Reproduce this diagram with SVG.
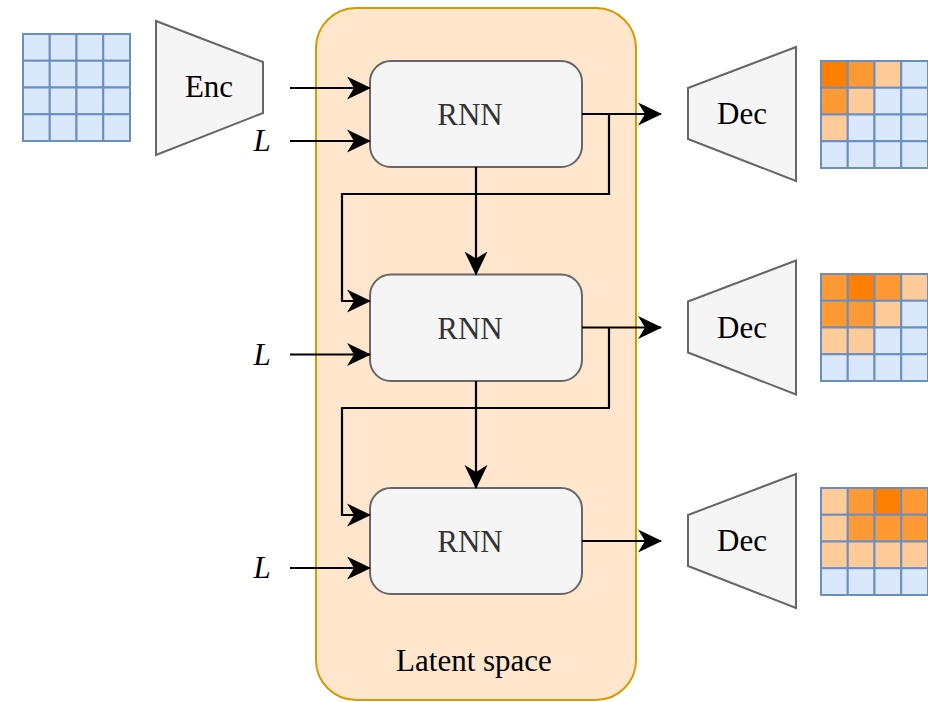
<svg xmlns="http://www.w3.org/2000/svg" width="928" height="702" viewBox="0 0 928 702">
<defs>
<style>
.grid rect{stroke:#6C8EBF;stroke-width:2}
.b{fill:#DAE8FC}.l{fill:#FFCC99}.m{fill:#FF9933}.d{fill:#FF8000}
.trap{fill:#F5F5F5;stroke:#666666;stroke-width:2}
.rnn{fill:#F5F5F5;stroke:#666666;stroke-width:2}
.lbl{font-family:"Liberation Serif","Times New Roman",serif;font-size:31px;text-anchor:middle;fill:#000}
.rl{fill:#333333}
.L{font-family:"Liberation Serif","Times New Roman",serif;font-size:31px;font-style:italic;text-anchor:middle;fill:#000}
.c{fill:none;stroke:#000;stroke-width:2.2}
</style>
<marker id="arr" viewBox="0 0 24 24" refX="23" refY="12" markerWidth="24" markerHeight="24" markerUnits="userSpaceOnUse" orient="auto">
<path d="M24,12 L0,0.5 L7,12 L0,23.5 Z" fill="#000"/>
</marker>
</defs>

<g id="latent">
<rect x="316" y="8" width="320" height="692" rx="40" ry="40" fill="#FFE6CC" stroke="#D79B00" stroke-width="2"/>
<text class="lbl" x="474" y="671">Latent space</text>
</g>

<g id="input-grid" class="grid">
<rect class="b" x="23" y="34" width="26.75" height="26.75"/><rect class="b" x="49.75" y="34" width="26.75" height="26.75"/><rect class="b" x="76.5" y="34" width="26.75" height="26.75"/><rect class="b" x="103.25" y="34" width="26.75" height="26.75"/>
<rect class="b" x="23" y="60.75" width="26.75" height="26.75"/><rect class="b" x="49.75" y="60.75" width="26.75" height="26.75"/><rect class="b" x="76.5" y="60.75" width="26.75" height="26.75"/><rect class="b" x="103.25" y="60.75" width="26.75" height="26.75"/>
<rect class="b" x="23" y="87.5" width="26.75" height="26.75"/><rect class="b" x="49.75" y="87.5" width="26.75" height="26.75"/><rect class="b" x="76.5" y="87.5" width="26.75" height="26.75"/><rect class="b" x="103.25" y="87.5" width="26.75" height="26.75"/>
<rect class="b" x="23" y="114.25" width="26.75" height="26.75"/><rect class="b" x="49.75" y="114.25" width="26.75" height="26.75"/><rect class="b" x="76.5" y="114.25" width="26.75" height="26.75"/><rect class="b" x="103.25" y="114.25" width="26.75" height="26.75"/>
</g>

<g id="enc">
<polygon class="trap" points="156,21 263,62 263,113 156,155"/>
<text class="lbl" x="209" y="97">Enc</text>
</g>

<g id="rnn1">
<rect class="rnn" x="370" y="61" width="212" height="106" rx="21" ry="21"/>
<text class="lbl rl" x="470" y="125">RNN</text>
</g>
<g id="rnn2">
<rect class="rnn" x="370" y="274.5" width="212" height="106.5" rx="21" ry="21"/>
<text class="lbl rl" x="470" y="338.5">RNN</text>
</g>
<g id="rnn3">
<rect class="rnn" x="370" y="488" width="212" height="106" rx="21" ry="21"/>
<text class="lbl rl" x="470" y="552">RNN</text>
</g>

<g id="L1"><text class="L" x="262" y="151">L</text></g>
<g id="L2"><text class="L" x="262" y="364.5">L</text></g>
<g id="L3"><text class="L" x="262" y="578">L</text></g>

<g id="dec1">
<polygon class="trap" points="688,88 796,47 796,181 688,139"/>
<text class="lbl" x="742" y="124">Dec</text>
</g>
<g id="dec2">
<polygon class="trap" points="688,301.5 796,260.5 796,394.5 688,352.5"/>
<text class="lbl" x="742" y="337.5">Dec</text>
</g>
<g id="dec3">
<polygon class="trap" points="688,515 796,474 796,608 688,566"/>
<text class="lbl" x="742" y="551">Dec</text>
</g>

<g id="out-grid1" class="grid">
<rect class="d" x="821" y="61" width="26.75" height="26.75"/><rect class="m" x="847.75" y="61" width="26.75" height="26.75"/><rect class="l" x="874.5" y="61" width="26.75" height="26.75"/><rect class="b" x="901.25" y="61" width="26.75" height="26.75"/>
<rect class="m" x="821" y="87.75" width="26.75" height="26.75"/><rect class="l" x="847.75" y="87.75" width="26.75" height="26.75"/><rect class="b" x="874.5" y="87.75" width="26.75" height="26.75"/><rect class="b" x="901.25" y="87.75" width="26.75" height="26.75"/>
<rect class="l" x="821" y="114.5" width="26.75" height="26.75"/><rect class="b" x="847.75" y="114.5" width="26.75" height="26.75"/><rect class="b" x="874.5" y="114.5" width="26.75" height="26.75"/><rect class="b" x="901.25" y="114.5" width="26.75" height="26.75"/>
<rect class="b" x="821" y="141.25" width="26.75" height="26.75"/><rect class="b" x="847.75" y="141.25" width="26.75" height="26.75"/><rect class="b" x="874.5" y="141.25" width="26.75" height="26.75"/><rect class="b" x="901.25" y="141.25" width="26.75" height="26.75"/>
</g>
<g id="out-grid2" class="grid">
<rect class="m" x="821" y="274" width="26.75" height="26.75"/><rect class="d" x="847.75" y="274" width="26.75" height="26.75"/><rect class="m" x="874.5" y="274" width="26.75" height="26.75"/><rect class="l" x="901.25" y="274" width="26.75" height="26.75"/>
<rect class="m" x="821" y="300.75" width="26.75" height="26.75"/><rect class="m" x="847.75" y="300.75" width="26.75" height="26.75"/><rect class="l" x="874.5" y="300.75" width="26.75" height="26.75"/><rect class="b" x="901.25" y="300.75" width="26.75" height="26.75"/>
<rect class="l" x="821" y="327.5" width="26.75" height="26.75"/><rect class="l" x="847.75" y="327.5" width="26.75" height="26.75"/><rect class="b" x="874.5" y="327.5" width="26.75" height="26.75"/><rect class="b" x="901.25" y="327.5" width="26.75" height="26.75"/>
<rect class="b" x="821" y="354.25" width="26.75" height="26.75"/><rect class="b" x="847.75" y="354.25" width="26.75" height="26.75"/><rect class="b" x="874.5" y="354.25" width="26.75" height="26.75"/><rect class="b" x="901.25" y="354.25" width="26.75" height="26.75"/>
</g>
<g id="out-grid3" class="grid">
<rect class="l" x="821" y="488" width="26.75" height="26.75"/><rect class="m" x="847.75" y="488" width="26.75" height="26.75"/><rect class="d" x="874.5" y="488" width="26.75" height="26.75"/><rect class="m" x="901.25" y="488" width="26.75" height="26.75"/>
<rect class="l" x="821" y="514.75" width="26.75" height="26.75"/><rect class="m" x="847.75" y="514.75" width="26.75" height="26.75"/><rect class="m" x="874.5" y="514.75" width="26.75" height="26.75"/><rect class="m" x="901.25" y="514.75" width="26.75" height="26.75"/>
<rect class="l" x="821" y="541.5" width="26.75" height="26.75"/><rect class="l" x="847.75" y="541.5" width="26.75" height="26.75"/><rect class="l" x="874.5" y="541.5" width="26.75" height="26.75"/><rect class="l" x="901.25" y="541.5" width="26.75" height="26.75"/>
<rect class="b" x="821" y="568.25" width="26.75" height="26.75"/><rect class="b" x="847.75" y="568.25" width="26.75" height="26.75"/><rect class="b" x="874.5" y="568.25" width="26.75" height="26.75"/><rect class="b" x="901.25" y="568.25" width="26.75" height="26.75"/>
</g>

<g id="connectors">
<path class="c" d="M290,88 H370" marker-end="url(#arr)"/>
<path class="c" d="M290,141 H370" marker-end="url(#arr)"/>
<path class="c" d="M290,354.5 H370" marker-end="url(#arr)"/>
<path class="c" d="M290,568 H370" marker-end="url(#arr)"/>
<path class="c" d="M582,114 H661" marker-end="url(#arr)"/>
<path class="c" d="M582,327.5 H661" marker-end="url(#arr)"/>
<path class="c" d="M582,541 H661" marker-end="url(#arr)"/>
<path class="c" d="M476,167 V274.5" marker-end="url(#arr)"/>
<path class="c" d="M476,381 V488" marker-end="url(#arr)"/>
<path class="c" d="M609,114 V194 H342 V301 H370" marker-end="url(#arr)"/>
<path class="c" d="M609,327.5 V408 H342 V515 H370" marker-end="url(#arr)"/>
</g>
</svg>
